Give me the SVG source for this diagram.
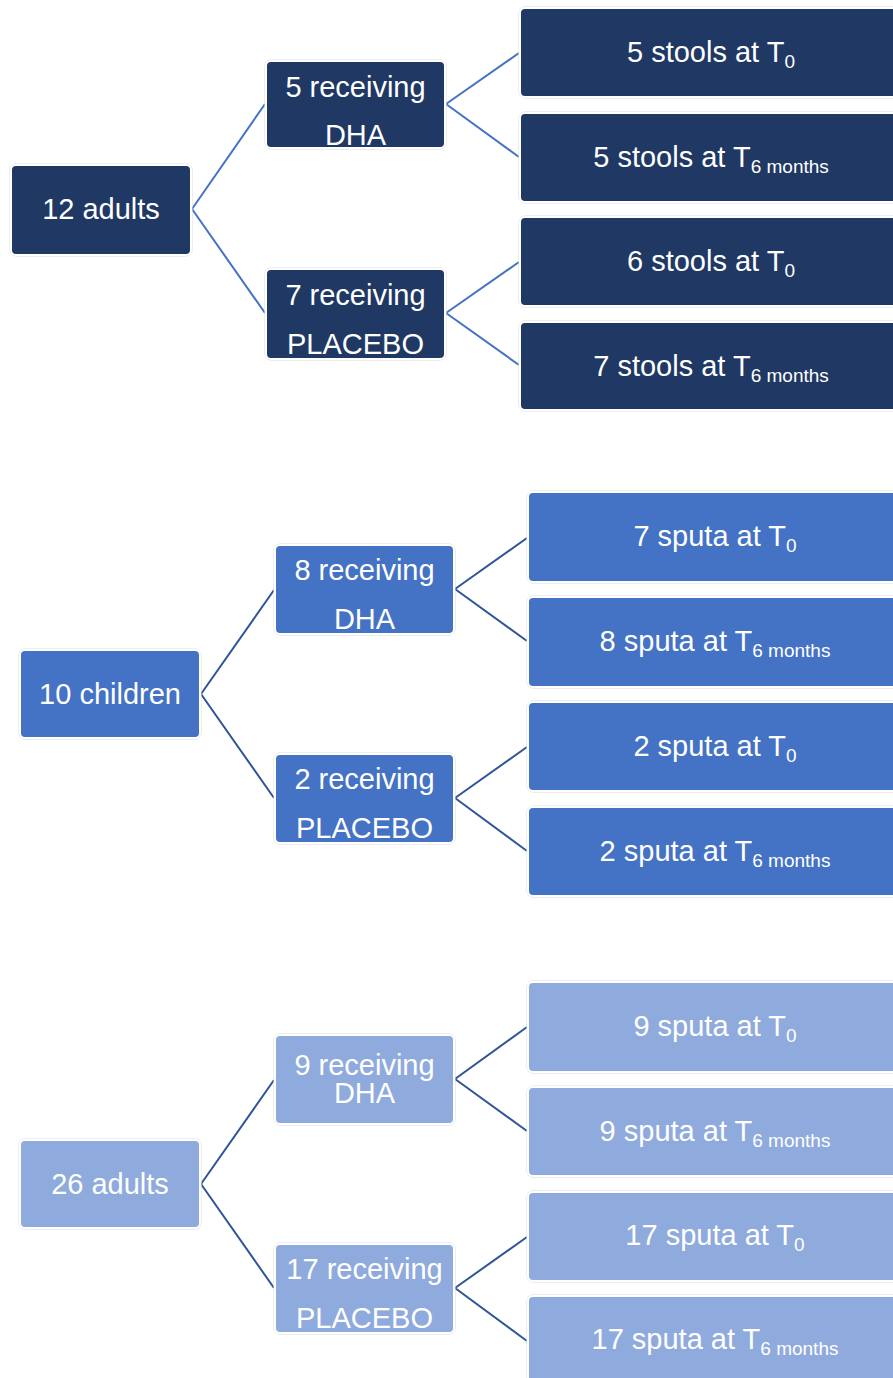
<svg xmlns="http://www.w3.org/2000/svg" width="893" height="1378" viewBox="0 0 893 1378">
<style>
  .box { stroke: #ffffff; stroke-width: 2; }
  .halo { fill: none; stroke: #dcdcdc; stroke-width: 1; }
  .s1 { fill: #203864; }
  .s2 { fill: #4472C4; }
  .s3 { fill: #8FAADC; }
  .t { font-family: "Liberation Sans", Arial, sans-serif; font-size: 29px; fill: #ffffff; text-anchor: middle; }
  .sub { font-size: 19px; }
  .c1 { fill: none; stroke: #4472C4; stroke-width: 2; }
  .c2 { fill: none; stroke: #2F5597; stroke-width: 2; }
</style>
<rect width="893" height="1378" fill="#ffffff"/>
<g id="connectors">
  <path class="c1" d="M192,209 L265,104 M192,209 L265,313 M446,104 L519,53 M446,104 L519,157 M446,313 L519,262 M446,313 L519,365"/>
  <path class="c2" d="M201,694 L274,590 M201,694 L274,798 M455,589 L527,538 M455,589 L527,641 M455,798 L527,747 M455,798 L527,851"/>
  <path class="c2" d="M201,1184 L274,1080 M201,1184 L274,1288 M455,1079 L527,1027 M455,1079 L527,1131 M455,1288 L527,1237 M455,1288 L527,1341"/>
</g>
<!-- Section 1 -->
<g id="n-12adults">
  <rect class="halo" x="10" y="164" width="182" height="92" rx="6"/>
  <rect class="box s1" x="11" y="165" width="180" height="90" rx="5"/>
  <text class="t" x="101" y="219">12 adults</text>
</g>
<g id="n-5dha">
  <rect class="halo" x="265" y="60" width="181" height="89" rx="6"/>
  <rect class="box s1" x="266" y="61" width="179" height="87" rx="5"/>
  <text class="t" x="355.5" y="97">5 receiving</text>
  <text class="t" x="355.5" y="145">DHA</text>
</g>
<g id="n-7placebo">
  <rect class="halo" x="265" y="268" width="181" height="92" rx="6"/>
  <rect class="box s1" x="266" y="269" width="179" height="90" rx="5"/>
  <text class="t" x="355.5" y="305">7 receiving</text>
  <text class="t" x="355.5" y="354">PLACEBO</text>
</g>
<g id="n-5stools-t0">
  <rect class="halo" x="519" y="7" width="384" height="91" rx="6"/>
  <rect class="box s1" x="520" y="8" width="382" height="89" rx="5"/>
  <text class="t" x="711" y="62">5 stools at T<tspan class="sub" dy="6">0</tspan></text>
</g>
<g id="n-5stools-t6">
  <rect class="halo" x="519" y="112" width="384" height="91" rx="6"/>
  <rect class="box s1" x="520" y="113" width="382" height="89" rx="5"/>
  <text class="t" x="711" y="167">5 stools at T<tspan class="sub" dy="6">6 months</tspan></text>
</g>
<g id="n-6stools-t0">
  <rect class="halo" x="519" y="216" width="384" height="91" rx="6"/>
  <rect class="box s1" x="520" y="217" width="382" height="89" rx="5"/>
  <text class="t" x="711" y="271">6 stools at T<tspan class="sub" dy="6">0</tspan></text>
</g>
<g id="n-7stools-t6">
  <rect class="halo" x="519" y="321" width="384" height="90" rx="6"/>
  <rect class="box s1" x="520" y="322" width="382" height="88" rx="5"/>
  <text class="t" x="711" y="376">7 stools at T<tspan class="sub" dy="6">6 months</tspan></text>
</g>
<!-- Section 2 -->
<g id="n-10children">
  <rect class="halo" x="19" y="649" width="182" height="90" rx="6"/>
  <rect class="box s2" x="20" y="650" width="180" height="88" rx="5"/>
  <text class="t" x="110" y="704">10 children</text>
</g>
<g id="n-8dha">
  <rect class="halo" x="274" y="544" width="181" height="91" rx="6"/>
  <rect class="box s2" x="275" y="545" width="179" height="89" rx="5"/>
  <text class="t" x="364.5" y="580">8 receiving</text>
  <text class="t" x="364.5" y="629">DHA</text>
</g>
<g id="n-2placebo">
  <rect class="halo" x="274" y="753" width="181" height="91" rx="6"/>
  <rect class="box s2" x="275" y="754" width="179" height="89" rx="5"/>
  <text class="t" x="364.5" y="789">2 receiving</text>
  <text class="t" x="364.5" y="838">PLACEBO</text>
</g>
<g id="n-7sputa-t0">
  <rect class="halo" x="527" y="491" width="376" height="92" rx="6"/>
  <rect class="box s2" x="528" y="492" width="374" height="90" rx="5"/>
  <text class="t" x="715" y="546">7 sputa at T<tspan class="sub" dy="6">0</tspan></text>
</g>
<g id="n-8sputa-t6">
  <rect class="halo" x="527" y="596" width="376" height="92" rx="6"/>
  <rect class="box s2" x="528" y="597" width="374" height="90" rx="5"/>
  <text class="t" x="715" y="651">8 sputa at T<tspan class="sub" dy="6">6 months</tspan></text>
</g>
<g id="n-2sputa-t0">
  <rect class="halo" x="527" y="701" width="376" height="91" rx="6"/>
  <rect class="box s2" x="528" y="702" width="374" height="89" rx="5"/>
  <text class="t" x="715" y="756">2 sputa at T<tspan class="sub" dy="6">0</tspan></text>
</g>
<g id="n-2sputa-t6">
  <rect class="halo" x="527" y="806" width="376" height="91" rx="6"/>
  <rect class="box s2" x="528" y="807" width="374" height="89" rx="5"/>
  <text class="t" x="715" y="861">2 sputa at T<tspan class="sub" dy="6">6 months</tspan></text>
</g>
<!-- Section 3 -->
<g id="n-26adults">
  <rect class="halo" x="19" y="1139" width="182" height="90" rx="6"/>
  <rect class="box s3" x="20" y="1140" width="180" height="88" rx="5"/>
  <text class="t" x="110" y="1194">26 adults</text>
</g>
<g id="n-9dha">
  <rect class="halo" x="274" y="1034" width="181" height="91" rx="6"/>
  <rect class="box s3" x="275" y="1035" width="179" height="89" rx="5"/>
  <text class="t" x="364.5" y="1075">9 receiving</text>
  <text class="t" x="364.5" y="1103">DHA</text>
</g>
<g id="n-17placebo">
  <rect class="halo" x="274" y="1243" width="181" height="91" rx="6"/>
  <rect class="box s3" x="275" y="1244" width="179" height="89" rx="5"/>
  <text class="t" x="364.5" y="1279">17 receiving</text>
  <text class="t" x="364.5" y="1328">PLACEBO</text>
</g>
<g id="n-9sputa-t0">
  <rect class="halo" x="527" y="981" width="376" height="92" rx="6"/>
  <rect class="box s3" x="528" y="982" width="374" height="90" rx="5"/>
  <text class="t" x="715" y="1036">9 sputa at T<tspan class="sub" dy="6">0</tspan></text>
</g>
<g id="n-9sputa-t6">
  <rect class="halo" x="527" y="1086" width="376" height="91" rx="6"/>
  <rect class="box s3" x="528" y="1087" width="374" height="89" rx="5"/>
  <text class="t" x="715" y="1141">9 sputa at T<tspan class="sub" dy="6">6 months</tspan></text>
</g>
<g id="n-17sputa-t0">
  <rect class="halo" x="527" y="1191" width="376" height="91" rx="6"/>
  <rect class="box s3" x="528" y="1192" width="374" height="89" rx="5"/>
  <text class="t" x="715" y="1245">17 sputa at T<tspan class="sub" dy="6">0</tspan></text>
</g>
<g id="n-17sputa-t6">
  <rect class="halo" x="527" y="1295" width="376" height="92" rx="6"/>
  <rect class="box s3" x="528" y="1296" width="374" height="90" rx="5"/>
  <text class="t" x="715" y="1349">17 sputa at T<tspan class="sub" dy="6">6 months</tspan></text>
</g>
</svg>
